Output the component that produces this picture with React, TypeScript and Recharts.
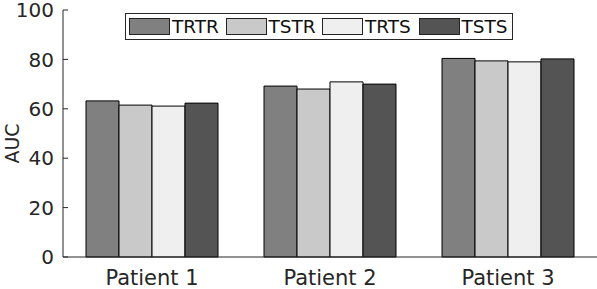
import React from "react";
import { BarChart, Bar, XAxis, YAxis, Legend } from "recharts";

const patients = ["Patient 1", "Patient 2", "Patient 3"];
const trtr = [63.2, 69.2, 80.4];
const tstr = [61.5, 68.0, 79.4];
const trts = [61.1, 70.9, 79.0];
const tsts = [62.3, 70.0, 80.2];
const yTicks = [0, 20, 40, 60, 80, 100];

const series = [
  { key: "TRTR", color: "#808080" },
  { key: "TSTR", color: "#c9c9c9" },
  { key: "TRTS", color: "#efefef" },
  { key: "TSTS", color: "#545454" },
];

const data = patients.map((name, i) => ({
  name,
  TRTR: trtr[i],
  TSTR: tstr[i],
  TRTS: trts[i],
  TSTS: tsts[i],
}));

const FONT = "'DejaVu Sans', sans-serif";
const INK = "#262626";

const YTick = (props: any) => {
  const { x, y, payload } = props;
  const axisX = x + 9;
  return (
    <g>
      <line x1={axisX} x2={axisX + 5} y1={y} y2={y} stroke={INK} strokeWidth={1} />
      <text x={x} y={y} dy="0.355em" textAnchor="end" fill={INK} fontSize={20} fontFamily={FONT}>
        {payload.value}
      </text>
    </g>
  );
};

// rotated axis title, baseline sits ~19px from the left edge
const AucLabel = (props: any) => {
  const vb = props.viewBox || {};
  const cy = (vb.y ?? 10) + (vb.height ?? 247) / 2 + 10;
  return (
    <text
      x={19}
      y={cy}
      transform={`rotate(-90, 19, ${cy})`}
      textAnchor="middle"
      fill={INK}
      fontSize={19}
      fontFamily={FONT}
    >
      AUC
    </text>
  );
};

const LegendBox = () => (
  <div
    style={{
      display: "flex",
      width: 386,
      height: 25,
      border: `1px solid ${INK}`,
      background: "#fff",
      boxSizing: "content-box",
      alignItems: "center",
      fontFamily: FONT,
      fontSize: 18.5,
      color: "#111",
    }}
  >
    {series.map((s) => (
      <div key={s.key} style={{ display: "flex", alignItems: "center", width: 96.5, paddingLeft: 3, boxSizing: "border-box" }}>
        <div style={{ width: 39, height: 15, background: s.color, border: "1px solid #222", marginRight: 2 }} />
        <span style={{ lineHeight: "20px" }}>{s.key}</span>
      </div>
    ))}
  </div>
);

export default function App() {
  return (
    <div style={{ position: "absolute", left: 0, top: 0 }}>
      <BarChart
        width={597}
        height={289}
        data={data}
        margin={{ top: 10, right: 0, bottom: 0, left: 0 }}
        barCategoryGap={23}
        barGap={0}
      >
        <XAxis
          dataKey="name"
          height={32}
          tickSize={0}
          tickMargin={13}
          tickLine={false}
          axisLine={{ stroke: INK, strokeWidth: 1 }}
          tick={{ fill: INK, fontSize: 21, fontFamily: FONT }}
        />
        <YAxis
          width={63}
          domain={[0, 100]}
          ticks={yTicks}
          interval={0}
          tickSize={0}
          tickMargin={9}
          tickLine={false}
          axisLine={{ stroke: INK, strokeWidth: 1 }}
          tick={<YTick />}
          label={<AucLabel />}
        />
        <Legend
          layout="horizontal"
          verticalAlign="middle"
          align="center"
          wrapperStyle={{ top: 13, left: 125, width: 388 }}
          content={<LegendBox />}
        />
        {series.map((s) => (
          <Bar
            key={s.key}
            dataKey={s.key}
            fill={s.color}
            stroke="#000"
            strokeWidth={1}
            isAnimationActive={false}
          />
        ))}
      </BarChart>
    </div>
  );
}
